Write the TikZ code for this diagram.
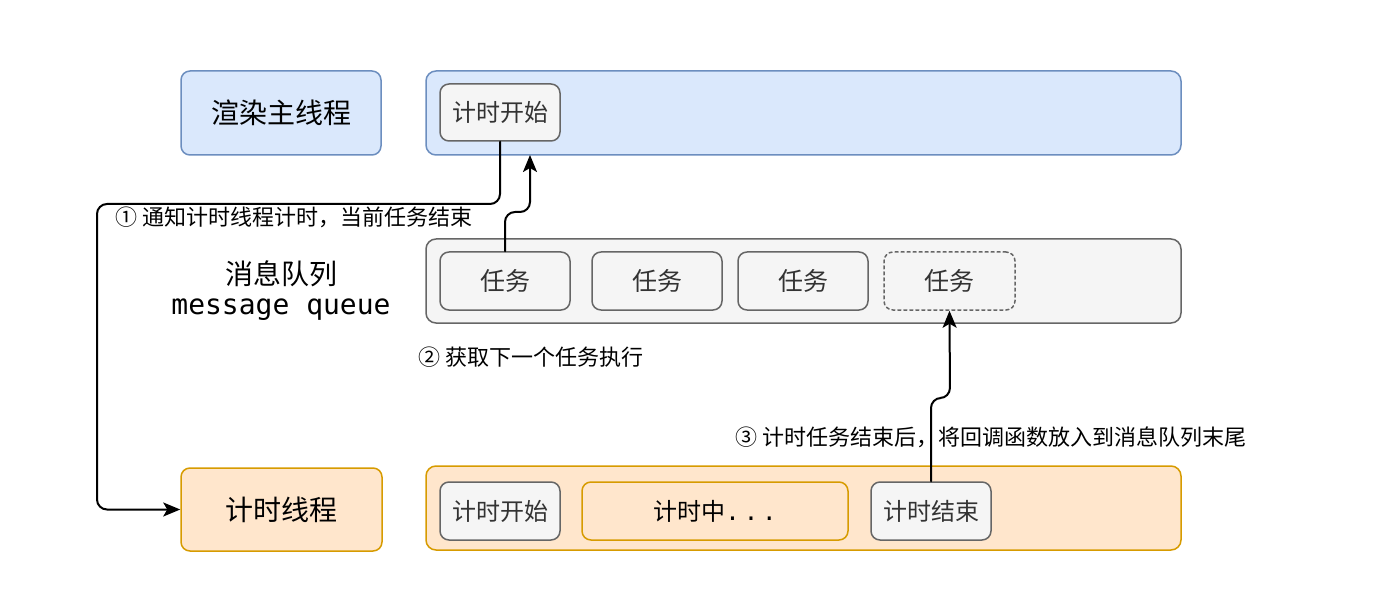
\documentclass[tikz,border=0pt]{standalone}
\usepackage{fontspec}
\setmainfont{Noto Sans CJK SC}
\newfontfamily\monofont{DejaVu Sans Mono}
\usetikzlibrary{arrows.meta}
\definecolor{bluefill}{HTML}{DAE8FC}
\definecolor{blueline}{HTML}{6C8EBF}
\definecolor{greyfill}{HTML}{F5F5F5}
\definecolor{greyline}{HTML}{666666}
\definecolor{orangefill}{HTML}{FFE6CC}
\definecolor{orangeline}{HTML}{D79B00}
\begin{document}
\begin{tikzpicture}[x=1pt, y=-1pt, line join=round, line cap=round,
	lane/.style={rounded corners=10pt, line width=1.5pt},
	box/.style={draw, rounded corners=9pt, line width=1.5pt, inner sep=0pt, font=\fontsize{28}{32}\selectfont},
	task/.style={draw=greyline, fill=greyfill, text=black!80, rounded corners=9pt, line width=1.5pt, inner sep=0pt, font=\fontsize{24}{28}\selectfont},
	flow/.style={line width=2pt, rounded corners=10pt, -{Stealth[length=17pt,width=14pt,inset=4pt]}},
	note/.style={anchor=west, inner sep=0pt, font=\fontsize{22}{26}\selectfont}]
	\useasboundingbox (0,0) rectangle (1387,604);
	% lanes
	\filldraw[lane, draw=blueline, fill=bluefill] (426,71) rectangle (1181,155);
	\filldraw[lane, draw=greyline, fill=greyfill] (426,239) rectangle (1181,323);
	\filldraw[lane, draw=orangeline, fill=orangefill] (426,466) rectangle (1181,550);
	% thread labels
	\node[box, draw=blueline, fill=bluefill, minimum width=200pt, minimum height=84pt] (mlabel) at (281,113) {渲染主线程};
	\node[font=\fontsize{28}{33}\selectfont, align=center, inner sep=0pt] (qlabel) at (281,291) {消息队列\\[-3pt]{\monofont\fontsize{28}{33}\selectfont message queue}};
	\node[box, draw=orangeline, fill=orangefill, minimum width=201pt, minimum height=83pt] (tlabel) at (281.5,509.5) {计时线程};
	% main thread
	\node[task, minimum width=120pt, minimum height=57pt] (tstart) at (500,112.5) {计时开始};
	% message queue
	\node[task, font=\fontsize{25}{29}\selectfont, minimum width=130pt, minimum height=58pt] (task1) at (505,281) {任务};
	\node[task, font=\fontsize{25}{29}\selectfont, minimum width=130pt, minimum height=58pt] (task2) at (657,281) {任务};
	\node[task, font=\fontsize{25}{29}\selectfont, minimum width=130pt, minimum height=58pt] (task3) at (803,281) {任务};
	\node[task, font=\fontsize{25}{29}\selectfont, dashed, minimum width=131pt, minimum height=58pt] (task4) at (949.5,281) {任务};
	% timer thread
	\node[task, minimum width=120pt, minimum height=58pt] (bstart) at (500,511) {计时开始};
	\node[task, draw=orangeline, fill=orangefill, text=black, minimum width=266pt, minimum height=58pt] (bwait) at (715,511) {计时中{\monofont .\,.\,.}};
	\node[task, minimum width=120pt, minimum height=58pt] (bend) at (931,511) {计时结束};
	% connectors
	\coordinate (back) at (530,155);
	\draw[flow] (tstart.south) |- (97,204) |- (tlabel.west);
	\draw[flow] (task1.north) |- (530,212) -- (back);
	\draw[flow] (bend.north) |- (950,398) -- (task4.south);
	\node[note] (n1) at (115,217) {① 通知计时线程计时，当前任务结束};
	\node[note] (n2) at (418,357) {② 获取下一个任务执行};
	\node[note] (n3) at (735,437) {③ 计时任务结束后，将回调函数放入到消息队列末尾};
\end{tikzpicture}
\end{document}
